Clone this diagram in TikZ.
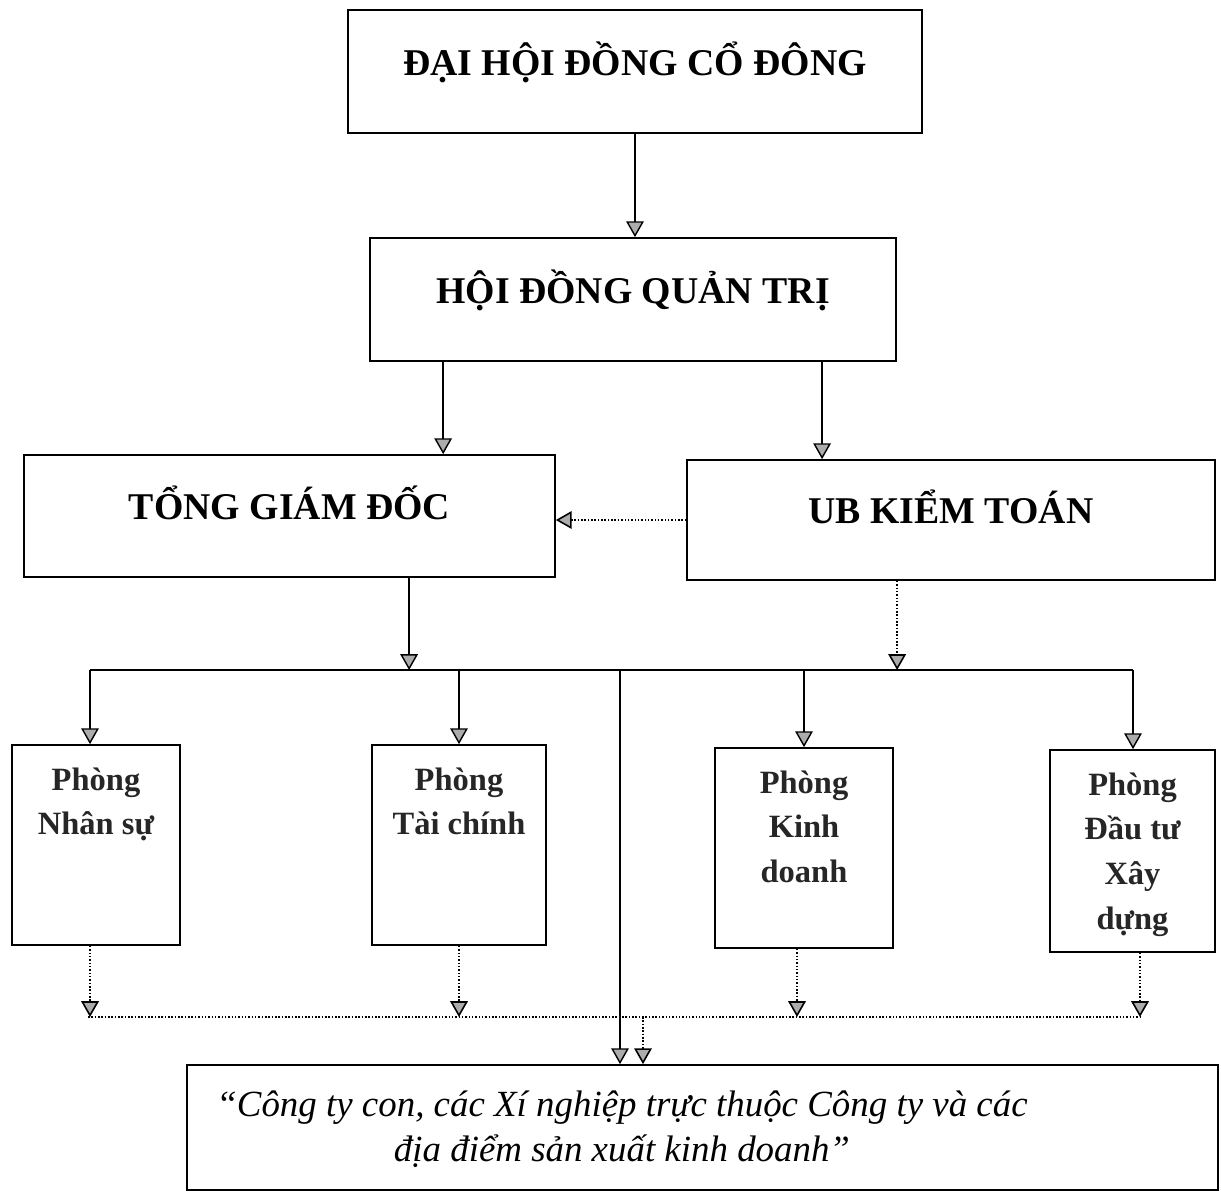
\documentclass[tikz,border=0pt]{standalone}
\usepackage{fontspec}
\setmainfont{Liberation Serif}
\usetikzlibrary{arrows.meta,positioning}
\begin{document}
\begin{tikzpicture}[x=0.02cm,y=-0.02cm,
  box/.style={draw,line width=1pt,inner sep=0pt},
  head/.style={box,font=\bfseries\fontsize{21.5}{25}\selectfont,text height=15pt,text depth=11pt},
  dept/.style={font=\bfseries\fontsize{18.5}{25.5}\selectfont,align=center,inner sep=0pt,anchor=north,text=black!85},
  tip/.style={-{Triangle[width=10pt,length=9pt,fill=gray!65]}},
  link/.style={line width=0.8pt,tip},
  dlink/.style={line width=0.9pt,densely dotted,tip}]
\useasboundingbox (0,0) rectangle (1221,1191);
% upper boxes
\node[head,minimum width=11.48cm,minimum height=2.46cm] (dhcd) at (635,71.5) {ĐẠI HỘI ĐỒNG CỔ ĐÔNG};
\node[head,minimum width=10.52cm,minimum height=2.46cm] (hdqt) at (633,299.5) {HỘI ĐỒNG QUẢN TRỊ};
\node[head,minimum width=10.62cm,minimum height=2.44cm] (tgd) at (289.5,516) {TỔNG GIÁM ĐỐC};
\node[head,minimum width=10.56cm,minimum height=2.4cm] (ubkt) at (951,520) {UB KIỂM TOÁN};
% departments
\node[box,minimum width=3.36cm,minimum height=4cm] (pns) at (96,845) {};
\node[box,minimum width=3.48cm,minimum height=4cm] (ptc) at (459,845) {};
\node[box,minimum width=3.56cm,minimum height=4cm] (pkd) at (804,848) {};
\node[box,minimum width=3.3cm,minimum height=4.04cm] (pdt) at (1132.5,851) {};
\node[dept,below=0.46cm of pns.north] (tns) {Phòng\\Nhân sự};
\node[dept,below=0.46cm of ptc.north] (ttc) {Phòng\\Tài chính};
\node[dept,below=0.46cm of pkd.north] (tkd) {Phòng\\Kinh\\doanh};
\node[dept,below=0.46cm of pdt.north] (tdt) {Phòng\\Đầu tư\\Xây\\dựng};
% bottom box
\node[box,minimum width=20.62cm,minimum height=2.5cm] (cty) at (702.5,1127.5) {};
\node[align=center,font=\itshape\fontsize{21}{25.5}\selectfont] (tcty) at (622,1129) {“Công ty con, các Xí nghiệp trực thuộc Công ty và các\\địa điểm sản xuất kinh doanh”};
% buses
\coordinate (busL) at (90,670);
\coordinate (busR) at (1133,670);
\coordinate (busM) at (620,670);
\coordinate (dbusL) at (88,1017);
\coordinate (dbusR) at (1140,1017);
\coordinate (dbusM) at (643,1017);
% connectors
\draw[link] (dhcd.south) -- (dhcd.south |- hdqt.north);
\draw[link] ([xshift=1.48cm]hdqt.south west) coordinate (h1) -- (h1 |- tgd.north);
\draw[link] ([xshift=9.06cm]hdqt.south west) coordinate (h2) -- (h2 |- ubkt.north);
\draw[dlink] (ubkt.west) -- (ubkt.west -| tgd.east);
\draw[link] ([xshift=7.72cm]tgd.south west) coordinate (t1) -- (t1 |- busL);
\draw[dlink] ([xshift=4.22cm]ubkt.south west) coordinate (u1) -- (u1 |- busL);
\draw[line width=0.8pt] (busL) -- (busR);
\draw[link] (busL) -- (busL |- pns.north);
\draw[link] (ptc.north |- busL) -- (ptc.north);
\draw[link] (pkd.north |- busL) -- (pkd.north);
\draw[link] (busR) -- (busR |- pdt.north);
\draw[link] (busM) -- (busM |- cty.north);
\draw[dlink] ([xshift=-0.12cm]pns.south) coordinate (p1) -- (p1 |- dbusL);
\draw[dlink] (ptc.south) -- (ptc.south |- dbusL);
\draw[dlink] ([xshift=-0.14cm]pkd.south) coordinate (p3) -- (p3 |- dbusL);
\draw[dlink] ([xshift=0.15cm]pdt.south) coordinate (p4) -- (p4 |- dbusR);
\draw[line width=0.9pt,densely dotted] (dbusL) -- (dbusR);
\draw[dlink] (dbusM) -- (dbusM |- cty.north);
\end{tikzpicture}
\end{document}
